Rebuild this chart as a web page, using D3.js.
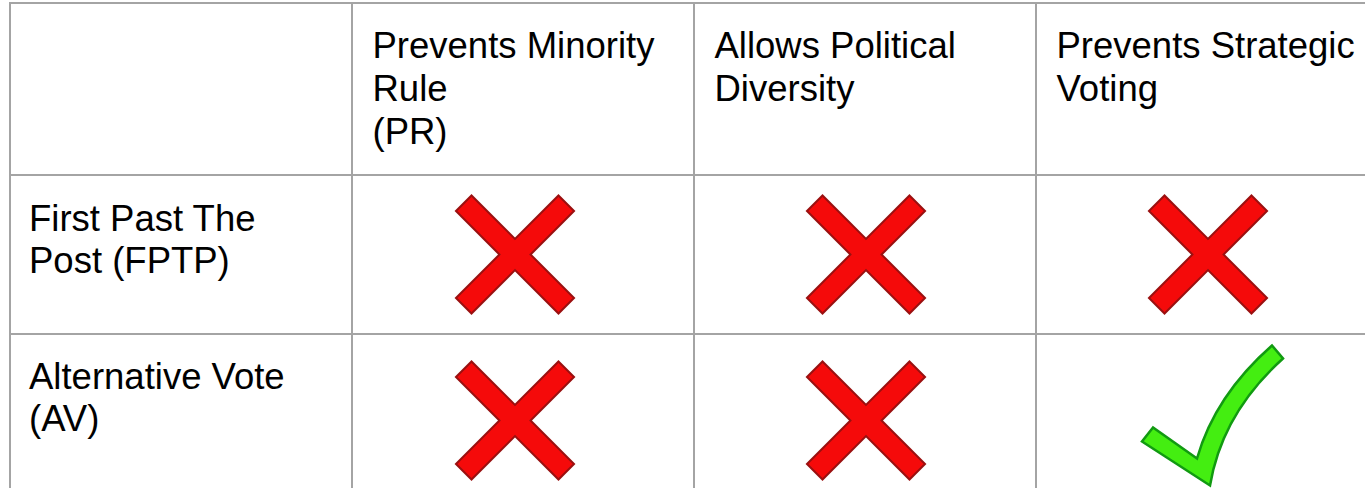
<!DOCTYPE html>
<html><head><meta charset="utf-8">
<script src="https://cdn.jsdelivr.net/npm/d3@7"></script>
<style>html,body{margin:0;padding:0;background:#fff;overflow:hidden}</style>
</head><body>
<svg id="c" width="1365" height="490"></svg>
<script>
// Data
const columns = ["Prevents Minority\nRule\n(PR)", "Allows Political\nDiversity", "Prevents Strategic\nVoting"];
const rows = ["First Past The\nPost (FPTP)", "Alternative Vote\n(AV)"];
const values = [
  [false, false, false],   // FPTP
  [false, false, true]     // AV
];

const svg = d3.select("#c");
const font = "'Liberation Sans', Arial, sans-serif";
const fs = 36.5;
const grid = "#a4a4a4";

// scales: column 0 is the row-label column
const x = d3.scaleBand().domain(d3.range(4)).range([10, 1378]).paddingInner(0).paddingOuter(0);
const y = d3.scaleBand().domain(d3.range(3)).range([175, 652]);

// grid lines
const hLines = [3, 175, 334];
svg.selectAll("line.h").data(hLines).join("line")
  .attr("x1", 9).attr("x2", 1365).attr("y1", d => d).attr("y2", d => d)
  .attr("stroke", grid).attr("stroke-width", 2);
const vLines = d3.range(4).map(i => x(i));
svg.selectAll("line.v").data(vLines).join("line")
  .attr("x1", d => d).attr("x2", d => d).attr("y1", 2).attr("y2", 488)
  .attr("stroke", grid).attr("stroke-width", 2);

// header text
columns.forEach((c, i) => {
  const t = svg.append("text").attr("font-family", font).attr("font-size", fs).attr("fill", "#000");
  c.split("\n").forEach((line, k) => {
    t.append("tspan").attr("x", x(i + 1) + 20.5).attr("y", 57.7 + k * 43.3).text(line);
  });
});

// row labels
const rowBase = [230.7, 389.3];
rows.forEach((r, j) => {
  const t = svg.append("text").attr("font-family", font).attr("font-size", fs).attr("fill", "#000");
  r.split("\n").forEach((line, k) => {
    t.append("tspan").attr("x", x(0) + 19).attr("y", rowBase[j] + k * 41.8).text(line);
  });
});

// marks
const L = 145, W = 22;
function crossPath() {
  const hl = L / 2, hw = W / 2;
  const pts = [[-hw,-hl],[hw,-hl],[hw,-hw],[hl,-hw],[hl,hw],[hw,hw],[hw,hl],[-hw,hl],[-hw,hw],[-hl,hw],[-hl,-hw],[-hw,-hw]];
  return "M" + pts.map(p => p.join(",")).join("L") + "Z";
}
const checkPath = "M-54,14 L-65,28 L3,72 Q15,0 76,-55 L65,-68 Q8,-18 -10,45 Z";

const cells = [];
values.forEach((row, j) => row.forEach((v, i) => cells.push({i, j, v})));
const cellH = [159, 159];
svg.selectAll("path.mark").data(cells).join("path")
  .attr("class", "mark")
  .attr("transform", d => {
    const cx = x(d.i + 1) + x.bandwidth() / 2 + (d.v ? 0 : (d.i === 0 ? -8 : 1));
    const cy = y(d.j) + cellH[d.j] / 2 + (d.v ? 0 : (d.j === 1 ? 7 : 0));
    return `translate(${cx},${cy})` + (d.v ? "" : " rotate(45)");
  })
  .attr("d", d => d.v ? checkPath : crossPath())
  .attr("fill", d => d.v ? "#44ee11" : "#f50a0a")
  .attr("stroke", d => d.v ? "#119a11" : "#9a1010")
  .attr("stroke-width", d => d.v ? 2.5 : 2)
  .attr("stroke-linejoin", "miter");
</script>
</body></html>
